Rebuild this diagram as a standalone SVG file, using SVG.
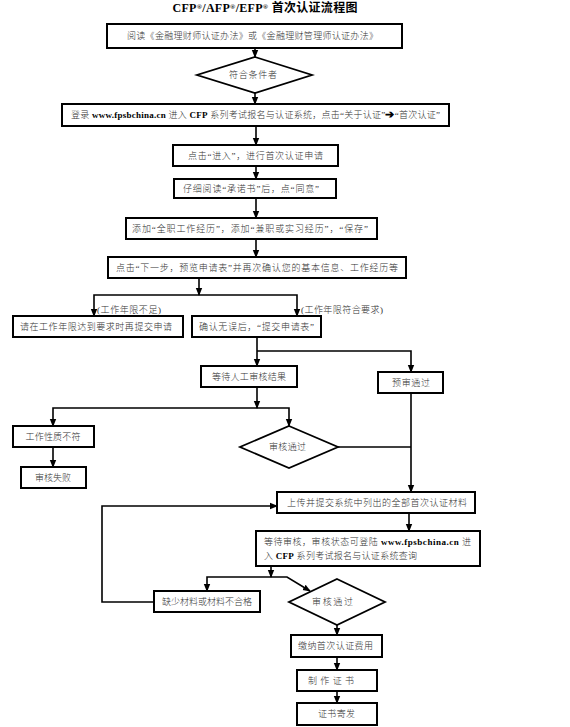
<svg xmlns="http://www.w3.org/2000/svg" width="570" height="727" viewBox="0 0 570 727">
<defs>
<style>
.box{fill:#fff;stroke:#000;stroke-width:2}
.dia{fill:#fff;stroke:#000;stroke-width:1.8}
.t{font-family:"Liberation Serif","Noto Sans CJK SC",serif;font-size:9px;fill:#333;font-weight:300}
.c{text-anchor:middle}
.b{font-weight:bold;fill:#000}
.sup{font-size:7px}
.ln{fill:none;stroke:#000;stroke-width:1.6}
</style>
<marker id="ah" markerUnits="userSpaceOnUse" markerWidth="8" markerHeight="8" viewBox="0 0 8 8" refX="7" refY="4" orient="auto">
<path d="M0,0.8 L8,4 L0,7.2 Z" fill="#000"/>
</marker>
</defs>
<rect width="570" height="727" fill="#fff"/>
<text x="265" y="12" class="t c b" style="font-size:12px" textLength="185" lengthAdjust="spacing">CFP<tspan class="sup" dy="-3">®</tspan><tspan dy="3">/AFP</tspan><tspan class="sup" dy="-3">®</tspan><tspan dy="3">/EFP</tspan><tspan class="sup" dy="-3">®</tspan><tspan dy="3"> 首次认证流程图</tspan></text>

<g id="connectors">
<path class="ln" d="M255,48 V57" marker-end="url(#ah)"/>
<path class="ln" d="M255,93 V104" marker-end="url(#ah)"/>
<path class="ln" d="M256,126 V145" marker-end="url(#ah)"/>
<path class="ln" d="M256,166 V179" marker-end="url(#ah)"/>
<path class="ln" d="M256,198 V218" marker-end="url(#ah)"/>
<path class="ln" d="M256,239 V257" marker-end="url(#ah)"/>
<path class="ln" d="M199,278 V295" marker-end="url(#ah)"/>
<path class="ln" d="M199,295 H94 V316" marker-end="url(#ah)"/>
<path class="ln" d="M199,295 H297 V316" marker-end="url(#ah)"/>
<path class="ln" d="M257,337 V366" marker-end="url(#ah)"/>
<path class="ln" d="M257,351 H411 V372" marker-end="url(#ah)"/>
<path class="ln" d="M257,387 V408" marker-end="url(#ah)"/>
<path class="ln" d="M257,408 H53 V426" marker-end="url(#ah)"/>
<path class="ln" d="M257,408 H289 V426" marker-end="url(#ah)"/>
<path class="ln" d="M53,447 V467" marker-end="url(#ah)"/>
<path class="ln" d="M338,447 H411"/>
<path class="ln" d="M411,393 V492" marker-end="url(#ah)"/>
<path class="ln" d="M409,513 V531" marker-end="url(#ah)"/>
<path class="ln" d="M271,566 V577" marker-end="url(#ah)"/>
<path class="ln" d="M271,577 H207 V591" marker-end="url(#ah)"/>
<path class="ln" d="M271,577 H287 L310,591" marker-end="url(#ah)"/>
<path class="ln" d="M154,602 H102 V506 H277" marker-end="url(#ah)"/>
<path class="ln" d="M337,625 V635" marker-end="url(#ah)"/>
<path class="ln" d="M337,657 V670" marker-end="url(#ah)"/>
<path class="ln" d="M337,691 V703" marker-end="url(#ah)"/>
<text x="97" y="313" class="t" textLength="64" lengthAdjust="spacing">(工作年限不足)</text>
<text x="301" y="313" class="t" textLength="82" lengthAdjust="spacing">(工作年限符合要求)</text>
</g>

<g id="n1"><rect class="box" x="107" y="24" width="295" height="24"/>
<text x="252.5" y="39" class="t c" textLength="251" lengthAdjust="spacing">阅读《金融理财师认证办法》或《金融理财管理师认证办法》</text></g>

<g id="n2"><polygon class="dia" points="255,57 312,75 255,93 197,75"/>
<text x="253" y="78" class="t c" textLength="48" lengthAdjust="spacing">符合条件者</text></g>

<g id="n3"><rect class="box" x="62" y="104" width="387" height="22"/>
<text x="255.5" y="118" class="t c" textLength="369" lengthAdjust="spacing">登录 <tspan class="b">www.fpsbchina.cn</tspan> 进入 <tspan class="b">CFP</tspan> 系列考试报名与认证系统，点击“关于认证”<tspan class="b" style="font-size:11px">➔</tspan>“首次认证”</text></g>

<g id="n4"><rect class="box" x="173" y="145" width="165" height="21"/>
<text x="255.5" y="158.5" class="t c" textLength="135" lengthAdjust="spacing">点击“进入”，进行首次认证申请</text></g>

<g id="n5"><rect class="box" x="174" y="179" width="162" height="19"/>
<text x="251" y="191.5" class="t c" textLength="136" lengthAdjust="spacing">仔细阅读“承诺书”后，点“同意”</text></g>

<g id="n6"><rect class="box" x="126" y="218" width="251" height="21"/>
<text x="250" y="231.5" class="t c" textLength="236" lengthAdjust="spacing">添加“全职工作经历”，添加“兼职或实习经历”，“保存”</text></g>

<g id="n7"><rect class="box" x="108" y="257" width="298" height="21"/>
<text x="257" y="270.5" class="t c" textLength="282" lengthAdjust="spacing">点击“下一步，预览申请表”并再次确认您的基本信息、工作经历等</text></g>

<g id="n8"><rect class="box" x="13" y="316" width="170" height="21"/>
<text x="96" y="329.5" class="t c" textLength="152" lengthAdjust="spacing">请在工作年限达到要求时再提交申请</text></g>

<g id="n9"><rect class="box" x="192" y="316" width="129" height="21"/>
<text x="256.5" y="329.5" class="t c" textLength="115" lengthAdjust="spacing">确认无误后，“提交申请表”</text></g>

<g id="n10"><rect class="box" x="201" y="366" width="96" height="21"/>
<text x="249" y="379.5" class="t c" textLength="74" lengthAdjust="spacing">等待人工审核结果</text></g>

<g id="n11"><rect class="box" x="378" y="372" width="65" height="21"/>
<text x="411" y="385.5" class="t c" textLength="38" lengthAdjust="spacing">预审通过</text></g>

<g id="n12"><rect class="box" x="13" y="426" width="81" height="21"/>
<text x="53" y="439.5" class="t c" textLength="55" lengthAdjust="spacing">工作性质不符</text></g>

<g id="n13"><rect class="box" x="21" y="467" width="65" height="21"/>
<text x="53" y="480.5" class="t c" textLength="36" lengthAdjust="spacing">审核失败</text></g>

<g id="n14"><polygon class="dia" points="289,426 338,447 289,468 240,447"/>
<text x="287.5" y="450" class="t c" textLength="37" lengthAdjust="spacing">审核通过</text></g>

<g id="n15"><rect class="box" x="277" y="492" width="198" height="21"/>
<text x="377" y="505.5" class="t c" textLength="180" lengthAdjust="spacing">上传并提交系统中列出的全部首次认证材料</text></g>

<g id="n16"><rect class="box" x="256" y="531" width="224" height="35"/>
<text x="264" y="545" class="t" textLength="207" lengthAdjust="spacing">等待审核，审核状态可登陆 <tspan class="b">www.fpsbchina.cn</tspan> 进</text>
<text x="264" y="559" class="t" textLength="153" lengthAdjust="spacing">入 <tspan class="b">CFP</tspan> 系列考试报名与认证系统查询</text></g>

<g id="n17"><rect class="box" x="154" y="591" width="106" height="21"/>
<text x="207" y="604.5" class="t c" textLength="90" lengthAdjust="spacing">缺少材料或材料不合格</text></g>

<g id="n18"><polygon class="dia" points="337,579 385,602 337,625 289,602"/>
<text x="332.5" y="605" class="t c" textLength="41" lengthAdjust="spacing">审核通过</text></g>

<g id="n19"><rect class="box" x="291" y="635" width="91" height="22"/>
<text x="335.5" y="649" class="t c" textLength="75" lengthAdjust="spacing">缴纳首次认证费用</text></g>

<g id="n20"><rect class="box" x="297" y="670" width="80" height="21"/>
<text x="331" y="683.5" class="t c" textLength="46" lengthAdjust="spacing">制作证书</text></g>

<g id="n21"><rect class="box" x="297" y="703" width="80" height="22"/>
<text x="336.5" y="717" class="t c" textLength="37" lengthAdjust="spacing">证书寄发</text></g>
</svg>
